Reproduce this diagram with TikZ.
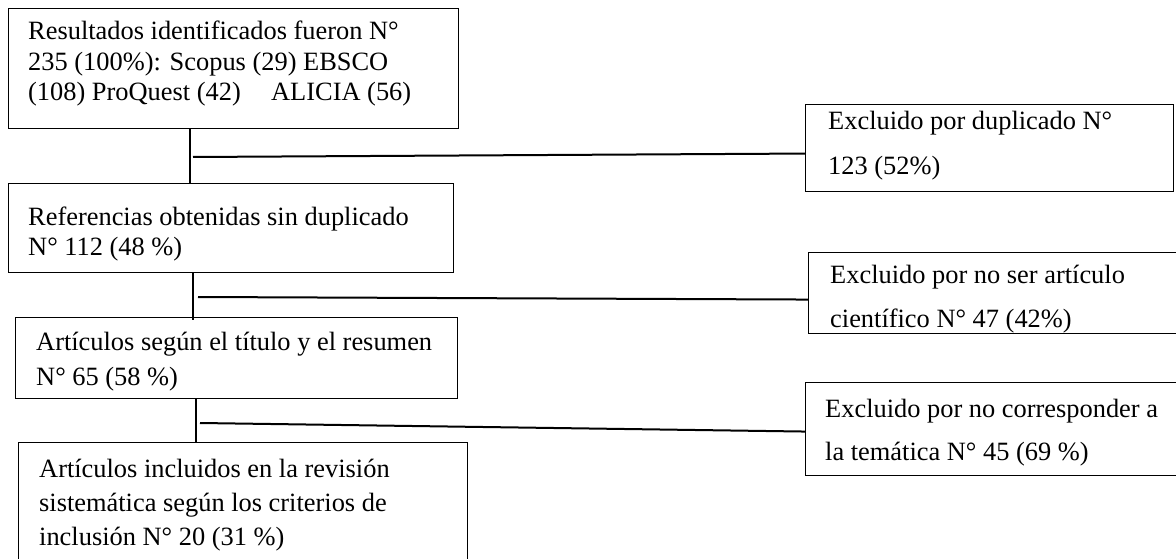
\documentclass[tikz,border=0pt]{standalone}
\usepackage{fontspec}
\setmainfont{Liberation Serif}
\begin{document}
\begin{tikzpicture}[x=1pt,y=-1pt,
  box/.style={draw, line width=1.1pt, inner sep=0pt, anchor=north west},
  txt/.style={anchor=base west, inner sep=0pt, align=left},
  ltxt/.style={txt, font=\fontsize{26.4}{30.5}\selectfont},
  rtxt/.style={txt, font=\fontsize{26.4}{45}\selectfont},
  vconn/.style={line width=1.6pt},
  hconn/.style={line width=2pt}]
\useasboundingbox (0,0) rectangle (1176,559);
% left column boxes
\node[box, minimum width=450pt, minimum height=120pt] (b1) at (8,8) {};
\node[box, minimum width=445pt, minimum height=89pt] (b2) at (8,183) {};
\node[box, minimum width=442pt, minimum height=81pt] (b3) at (15,317) {};
\node[box, minimum width=449pt, minimum height=200pt] (b4) at (18,442) {};
% right column boxes
\node[box, minimum width=368pt, minimum height=87pt] (r1) at (805,104) {};
\node[box, minimum width=370pt, minimum height=81pt] (r2) at (808,252) {};
\node[box, minimum width=373pt, minimum height=93pt] (r3) at (805,382) {};
% texts (anchor = baseline of the last line)
\node[ltxt] (t1) at (28,101) {Resultados identificados fueron N°\\235 (100\%): Scopus (29) EBSCO\\(108) ProQuest (42)\hspace{0.9em} ALICIA (56)};
\node[ltxt] (t2) at (28,255.5) {Referencias obtenidas sin duplicado\\N° 112 (48 \%)};
\node[ltxt, font=\fontsize{26.4}{35}\selectfont] (t3) at (36,385) {Artículos según el título y el resumen\\N° 65 (58 \%)};
\node[ltxt, font=\fontsize{26.4}{34}\selectfont] (t4) at (39,545) {Artículos incluidos en la revisión\\sistemática según los criterios de\\inclusión N° 20 (31 \%)};
\node[rtxt] (s1) at (828,175) {Excluido por duplicado N°\\123 (52\%)};
\node[rtxt, font=\fontsize{26.4}{44}\selectfont] (s2) at (830,327) {Excluido por no ser artículo\\científico N° 47 (42\%)};
\node[rtxt, font=\fontsize{26.4}{43}\selectfont] (s3) at (825,460) {Excluido por no corresponder a\\la temática N° 45 (69 \%)};
% vertical connectors
\draw[vconn] ([xshift=182pt]b1.south west) -- ([xshift=182pt]b2.north west);
\draw[vconn] ([xshift=185pt]b2.south west) -- ([xshift=178pt,yshift=-3pt]b3.north west);
\draw[vconn] ([xshift=181pt]b3.south west) -- ([xshift=178pt]b4.north west);
% horizontal connectors
\coordinate (h1) at (193,157);
\coordinate (h2) at (198,297);
\coordinate (h3) at (200,423);
\draw[hconn] (h1) -- ([yshift=-5.5pt]r1.west);
\draw[hconn] (h2) -- ([yshift=-6.5pt]r2.west);
\draw[hconn] (h3) -- ([yshift=-2.5pt]r3.west);
\end{tikzpicture}
\end{document}
